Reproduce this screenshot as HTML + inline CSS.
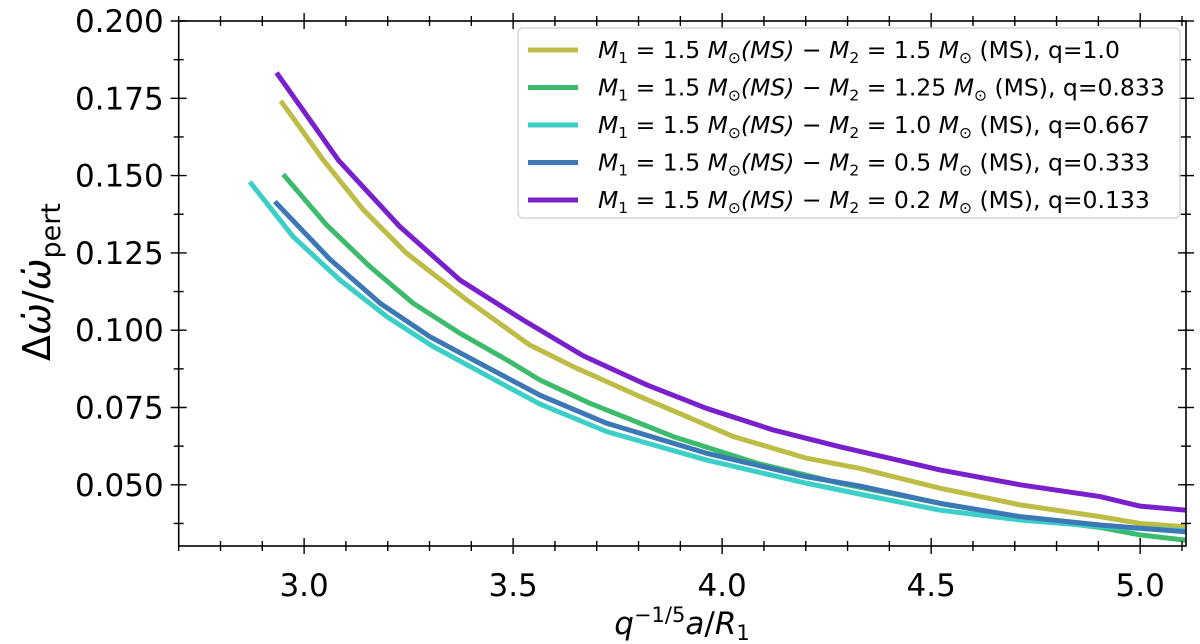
<!DOCTYPE html>
<html><head><meta charset="utf-8"><style>
body{margin:0;background:#fff;}
svg{display:block;font-family:"DejaVu Sans","Liberation Sans",sans-serif;}
</style></head><body>
<svg id="chart" width="1200" height="644"></svg>
<script>
const xTicks=[3.0,3.5,4.0,4.5,5.0];
const yTicks=[0.050,0.075,0.100,0.125,0.150,0.175,0.200];
const m2Labels=["1.5","1.25","1.0","0.5","0.2"];
const qLabels=["1.0","0.833","0.667","0.333","0.133"];
const colors=["#bdbd45","#3dbb6c","#3ccfc8","#3b78b5","#7a1fcc"];
const yellowX=[2.944,3.046,3.142,3.245,3.389,3.54,3.644,3.804,4.027,4.202,4.33,4.521,4.713,4.904,5.0,5.108];
const yellowY=[0.1742,0.155,0.1389,0.1249,0.1098,0.0952,0.0882,0.0785,0.0656,0.0586,0.0553,0.0489,0.0435,0.0397,0.0375,0.0364];
const greenX=[2.95,3.054,3.158,3.261,3.373,3.485,3.564,3.683,3.883,4.083,4.282,4.521,4.713,4.904,5.0,5.108];
const greenY=[0.1504,0.134,0.1205,0.1087,0.099,0.0904,0.0839,0.0764,0.0656,0.057,0.0505,0.0440,0.0395,0.0362,0.0338,0.0321];
const cyanX=[2.87,2.974,3.086,3.198,3.309,3.469,3.564,3.724,3.963,4.202,4.362,4.521,4.713,4.904,5.108];
const cyanY=[0.148,0.1302,0.1162,0.1044,0.0947,0.083,0.0761,0.0672,0.058,0.0505,0.0461,0.0418,0.0386,0.0365,0.0352];
const blueX=[2.93,3.062,3.182,3.301,3.42,3.533,3.564,3.724,3.963,4.202,4.33,4.521,4.713,4.904,5.108];
const blueY=[0.1416,0.1229,0.1087,0.0979,0.0893,0.0812,0.079,0.0699,0.0602,0.0526,0.0496,0.044,0.0397,0.037,0.0348];
const purpleX=[2.934,3.082,3.229,3.373,3.524,3.668,3.82,3.963,4.123,4.282,4.426,4.521,4.713,4.904,5.0,5.108];
const purpleY=[0.1833,0.155,0.1335,0.1162,0.1033,0.0917,0.0823,0.0747,0.0677,0.0623,0.0578,0.0548,0.05,0.0462,0.0431,0.0418];

const L=178.7,R=1186,T=21,B=546;
const xMin=2.7,xMax=5.1096,yMin=0.03021,yMax=0.2;
const sx=v=>L+(v-xMin)/(xMax-xMin)*(R-L);
const sy=v=>B-(v-yMin)/(yMax-yMin)*(B-T);
const svg=document.getElementById('chart');
const NS="http://www.w3.org/2000/svg";
function mk(tag,attrs,parent){const e=document.createElementNS(NS,tag);for(const k in attrs)e.setAttribute(k,attrs[k]);(parent||svg).appendChild(e);return e;}

const xs=[yellowX,greenX,cyanX,blueX,purpleX], ys=[yellowY,greenY,cyanY,blueY,purpleY];
const clip=mk('clipPath',{id:'pc'});mk('rect',{x:L,y:T,width:R-L,height:B-T},clip);
const sNames=['yellow-q1-line','green-q0833-line','cyan-q0667-line','blue-q0333-line','purple-q0133-line'];
xs.forEach((X,i)=>{
  const p=mk('polyline',{points:X.map((x,j)=>sx(x)+','+sy(ys[i][j])).join(' '),fill:'none',stroke:colors[i],'stroke-width':5,'stroke-linejoin':'round','clip-path':'url(#pc)'});
  
  
});

const fr=mk('rect',{x:L,y:T,width:R-L,height:B-T,fill:'none',stroke:'#000','stroke-width':1.6});



for(let k=0;k<=24;k++){
  const v=2.7+k*0.1;
  const x=sx(v);const major=xTicks.some(t=>Math.abs(t-v)<1e-6);const len=major?8:5;
  mk('line',{x1:x,x2:x,y1:B-len,y2:B+len,stroke:'#000','stroke-width':1.4});
  mk('line',{x1:x,x2:x,y1:T-len,y2:T+len,stroke:'#000','stroke-width':1.4});
}
xTicks.forEach(v=>{const t=mk('text',{x:sx(v),y:B+50,'text-anchor':'middle','font-size':31});t.textContent=v.toFixed(1);

});
for(let k=0;k<=13;k++){
  const v=0.0375+k*0.0125;
  const y=sy(v);const major=yTicks.some(t=>Math.abs(t-v)<1e-6);const len=major?8:5;
  mk('line',{x1:L-len,x2:L+len,y1:y,y2:y,stroke:'#000','stroke-width':1.4});
  mk('line',{x1:R-len,x2:R+len,y1:y,y2:y,stroke:'#000','stroke-width':1.4});
}
yTicks.forEach(v=>{const t=mk('text',{x:L-15,y:sy(v)+11,'text-anchor':'end','font-size':31});t.textContent=v.toFixed(3);

});

const xt=mk('text',{x:682,y:634,'text-anchor':'middle','font-size':31});
xt.innerHTML='<tspan font-style="italic">q</tspan><tspan dy="-12" font-size="21">−1/5</tspan><tspan dy="12" font-style="italic">a</tspan>/<tspan font-style="italic">R</tspan><tspan dy="6" font-size="21">1</tspan>';


const yt=mk('text',{x:0,y:0,'text-anchor':'middle','font-size':38,transform:'translate(50,282) rotate(-90)'});
yt.innerHTML='Δ<tspan font-style="italic">ω̇</tspan>/<tspan font-style="italic">ω̇</tspan><tspan dy="10" font-size="27">pert</tspan>';



const lg=mk('g',{});


mk('rect',{x:518,y:28,width:662,height:190,rx:5,fill:'#fff','fill-opacity':0.85,stroke:'#ccc','stroke-width':1.2},lg);
m2Labels.forEach((m2,i)=>{
  const y=50+i*37.5;
  const g=mk('g',{},lg);
  
  
  mk('line',{x1:528,x2:578,y1:y,y2:y,stroke:colors[i],'stroke-width':5},g);
  const t=mk('text',{x:598,y:y+8,'font-size':23.5},g);
  t.innerHTML='<tspan font-style="italic">M</tspan><tspan font-size="15.5" dy="5">1</tspan><tspan dy="-5"> = 1.5 </tspan><tspan font-style="italic">M</tspan><tspan font-size="15.5" dy="5">⊙</tspan><tspan dy="-5" font-style="italic">(MS)</tspan> − <tspan font-style="italic">M</tspan><tspan font-size="15.5" dy="5">2</tspan><tspan dy="-5"> = '+m2+' </tspan><tspan font-style="italic">M</tspan><tspan font-size="15.5" dy="5">⊙</tspan><tspan dy="-5"> (MS), q='+qLabels[i]+'</tspan>';
});
</script>
</body></html>
